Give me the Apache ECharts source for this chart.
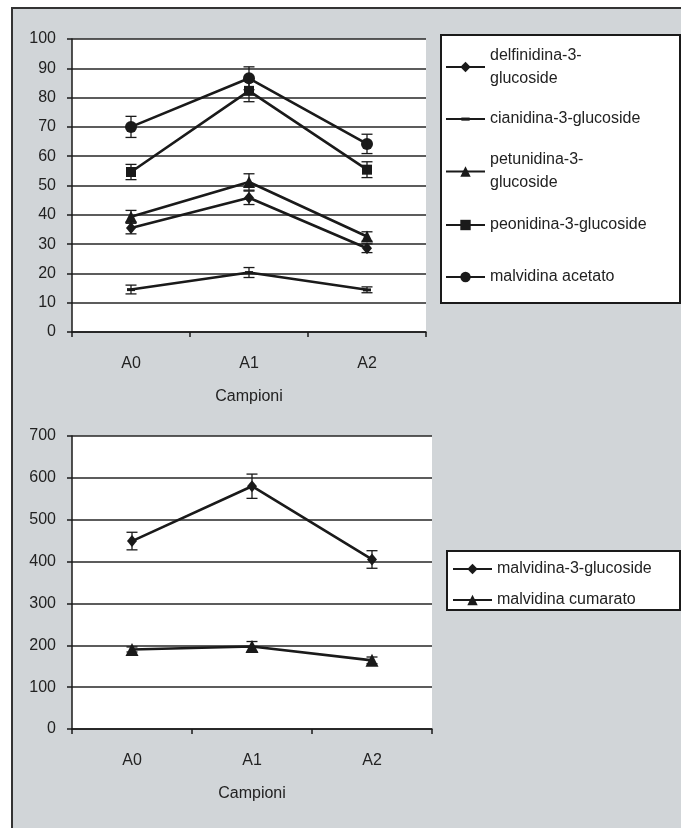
<!DOCTYPE html>
<html>
<head>
<meta charset="utf-8">
<script src="https://cdn.jsdelivr.net/npm/echarts@6/dist/echarts.min.js"></script>
<style>
html,body{margin:0;padding:0;background:#fff;}
#c{width:681px;height:828px;}
</style>
</head>
<body>
<div id="c"></div>
<script>
// ---- data ----
const categories = ['A0', 'A1', 'A2'];

const topNames = ['delfinidina-3-glucoside', 'cianidina-3-glucoside', 'petunidina-3-glucoside', 'peonidina-3-glucoside', 'malvidina acetato'];
const delfinidina = [35.5, 45.8, 28.6];
const delfinidinaErr = [2.0, 2.3, 1.5];
const cianidina = [14.5, 20.3, 14.4];
const cianidinaErr = [1.5, 1.7, 1.0];
const petunidina = [39.3, 51.2, 32.6];
const petunidinaErr = [2.2, 2.8, 1.6];
const peonidina = [54.6, 82.3, 55.4];
const peonidinaErr = [2.6, 3.7, 2.7];
const malvAcetato = [70.0, 86.6, 64.2];
const malvAcetatoErr = [3.6, 3.9, 3.3];

const bottomNames = ['malvidina-3-glucoside', 'malvidina cumarato'];
const malvGlucoside = [449, 580, 405];
const malvGlucosideErr = [21, 29, 21];
const malvCumarato = [190, 197, 164];
const malvCumaratoErr = [6, 12, 8];

const topTicks = {min: 0, max: 100, interval: 10};
const bottomTicks = {min: 0, max: 700, interval: 100};

// ---- chart ----
const INK = '#1a1a1a';
const FONT = "'Liberation Sans', Arial, sans-serif";
const dashSymbol = 'path://M0,0M10,10M1,3.6H9V6.6H1Z';

function lineSeries(name, data, symbol, size, axisIdx) {
  return {
    type: 'line', name: name, data: data,
    xAxisIndex: axisIdx, yAxisIndex: axisIdx,
    symbol: symbol, symbolSize: size, showAllSymbol: true,
    lineStyle: {color: INK, width: 2.6},
    itemStyle: {color: INK, borderWidth: 0},
    z: 3
  };
}
function errSeries(vals, errs, axisIdx) {
  return {
    type: 'custom',
    xAxisIndex: axisIdx, yAxisIndex: axisIdx,
    data: vals.map((v, i) => [i, v - errs[i], v + errs[i]]),
    renderItem: function (params, api) {
      const x = api.value(0);
      const lo = api.coord([x, api.value(1)]);
      const hi = api.coord([x, api.value(2)]);
      const w = 5.5;
      const st = {stroke: INK, lineWidth: 1.3};
      return {type: 'group', children: [
        {type: 'line', shape: {x1: lo[0], y1: lo[1], x2: hi[0], y2: hi[1]}, style: st},
        {type: 'line', shape: {x1: lo[0] - w, y1: lo[1], x2: lo[0] + w, y2: lo[1]}, style: st},
        {type: 'line', shape: {x1: hi[0] - w, y1: hi[1], x2: hi[0] + w, y2: hi[1]}, style: st}
      ]};
    },
    z: 4,
    silent: true
  };
}
function xAxis(idx) {
  return {
    type: 'category', gridIndex: idx, data: categories, boundaryGap: true,
    axisLine: {show: true, lineStyle: {color: INK, width: 1.5}},
    axisTick: {show: true, length: 5, lineStyle: {color: INK, width: 1.5}},
    axisLabel: {color: '#222', fontSize: 16, fontFamily: FONT, margin: 24},
    splitLine: {show: false},
    name: 'Campioni', nameLocation: 'middle', nameGap: 57,
    nameTextStyle: {color: '#222', fontSize: 16, fontFamily: FONT}
  };
}
function yAxis(idx, t) {
  return {
    type: 'value', gridIndex: idx, min: t.min, max: t.max, interval: t.interval,
    axisLine: {show: true, lineStyle: {color: INK, width: 1.5}},
    axisTick: {show: true, length: 5, lineStyle: {color: INK, width: 1.5}},
    axisLabel: {color: '#222', fontSize: 16, fontFamily: FONT, margin: 16},
    splitLine: {show: true, lineStyle: {color: '#262626', width: 1.6}}
  };
}
function legend(names, left, top, gap) {
  return {
    data: names, left: left, top: top, orient: 'vertical', padding: 0,
    itemWidth: 39, itemHeight: 13, itemGap: gap || 8,
    selectedMode: false,
    textStyle: {color: '#222', fontSize: 16, fontFamily: FONT, lineHeight: 23},
    formatter: function (n) {
      if (n === 'delfinidina-3-glucoside') return 'delfinidina-3-\nglucoside';
      if (n === 'petunidina-3-glucoside') return 'petunidina-3-\nglucoside';
      return n;
    }
  };
}

const chart = echarts.init(document.getElementById('c'), null, {renderer: 'canvas'});
chart.setOption({
  animation: false,
  backgroundColor: 'transparent',
  graphic: [
    {type: 'rect', z: -10, shape: {x: 12, y: 8, width: 720, height: 900},
     style: {fill: '#d1d5d8', stroke: '#333', lineWidth: 2}},
    {type: 'rect', z: 1, shape: {x: 441, y: 35, width: 239, height: 268},
     style: {fill: '#fff', stroke: '#1a1a1a', lineWidth: 2}},
    {type: 'rect', z: 1, shape: {x: 447, y: 551, width: 233, height: 59},
     style: {fill: '#fff', stroke: '#1a1a1a', lineWidth: 2}}
  ],
  grid: [
    {left: 72, top: 39, width: 354, height: 293, show: true, backgroundColor: '#fff', borderWidth: 0},
    {left: 72, top: 436, width: 360, height: 293, show: true, backgroundColor: '#fff', borderWidth: 0}
  ],
  xAxis: [xAxis(0), xAxis(1)],
  yAxis: [yAxis(0, topTicks), yAxis(1, bottomTicks)],
  legend: [
    legend([topNames[0]], 445, 44),
    legend([topNames[1]], 445, 107.5),
    legend([topNames[2]], 445, 148.5),
    legend([topNames[3]], 445, 213.5),
    legend([topNames[4]], 445, 265.5),
    legend(bottomNames, 452, 557.5, 8)
  ],
  series: [
    lineSeries(topNames[0], delfinidina, 'diamond', [10, 12], 0),
    lineSeries(topNames[1], cianidina, dashSymbol, 10, 0),
    lineSeries(topNames[2], petunidina, 'triangle', 12, 0),
    lineSeries(topNames[3], peonidina, 'rect', 10, 0),
    lineSeries(topNames[4], malvAcetato, 'circle', 12, 0),
    errSeries(delfinidina, delfinidinaErr, 0),
    errSeries(cianidina, cianidinaErr, 0),
    errSeries(petunidina, petunidinaErr, 0),
    errSeries(peonidina, peonidinaErr, 0),
    errSeries(malvAcetato, malvAcetatoErr, 0),
    lineSeries(bottomNames[0], malvGlucoside, 'diamond', [10, 12], 1),
    lineSeries(bottomNames[1], malvCumarato, 'triangle', 13, 1),
    errSeries(malvGlucoside, malvGlucosideErr, 1),
    errSeries(malvCumarato, malvCumaratoErr, 1)
  ]
});
</script>
</body>
</html>
